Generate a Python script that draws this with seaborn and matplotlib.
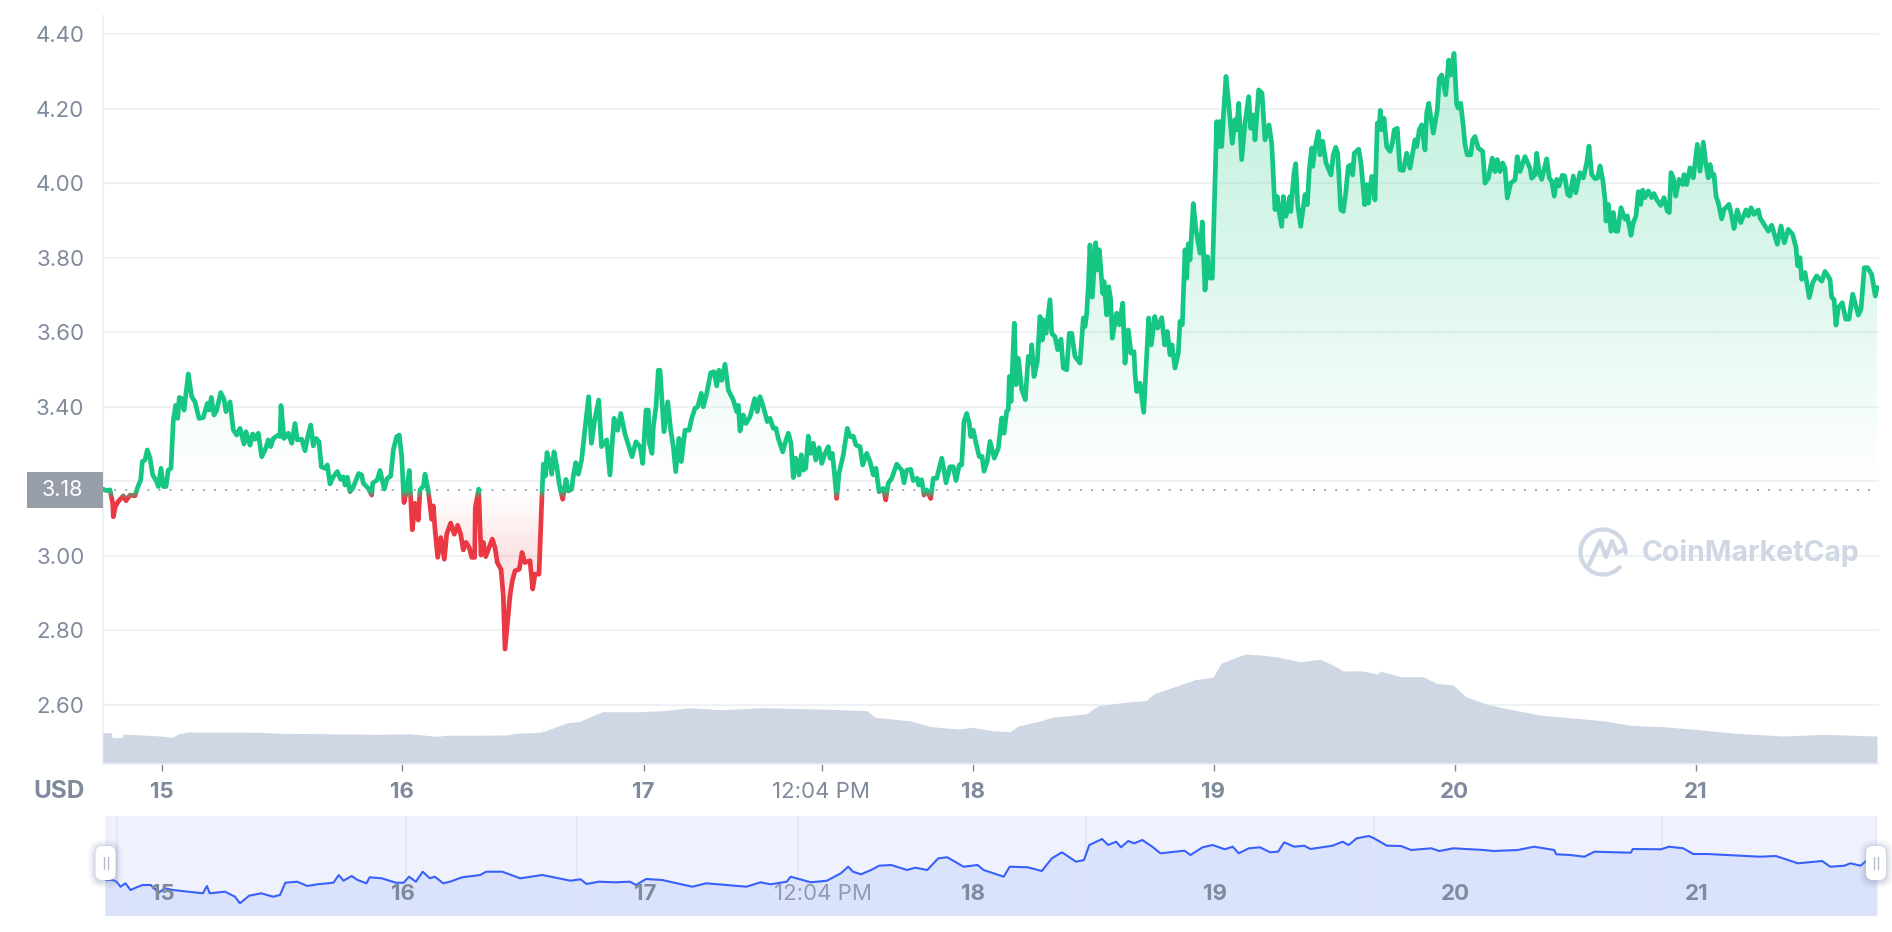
import numpy as np
import matplotlib
matplotlib.use("Agg")
import matplotlib.pyplot as plt
from matplotlib.patches import Rectangle, FancyBboxPatch
from matplotlib.colors import to_rgb
import seaborn as sns

# ---------- data ----------
price_slot = [0.2,4.2,7.5,10.2,10.8,12.8,15.8,20.8,23.5,27.5,32.5,34.8,38.2,39.8,42.5,44.8,47.5,50.2,54.2,55.8,
58.5,60.8,63.5,65.8,68.5,70.8,73.2,75.2,76.8,79.2,81.5,85.8,89.2,92.5,96.5,100.8,104.8,106.8,108.8,111.5,
114.2,118.2,121.5,123.5,127.5,130.8,134.2,137.5,141.5,143.5,147.5,150.2,152.5,155.8,159.2,163.2,165.8,168.2,170.8,175.8,
177.5,178.5,181.5,185.8,189.2,192.5,194.8,199.2,202.5,204.8,208.2,210.8,213.5,216.5,218.8,222.5,224.8,227.5,230.8,234.8,
238.2,240.8,242.5,244.8,247.5,250.2,256.2,259.2,260.8,265.8,269.2,270.2,274.8,277.5,281.8,284.8,288.2,290.8,294.2,296.8,
299.2,301.5,304.2,306.8,309.8,312.5,315.8,317.5,
321.0,322.5,325.8,329.2,330.8,332.5,335.2,338.2,341.8,344.2,348.2,351.8,355.2,358.2,360.8,363.5,366.8,369.2,372.2,372.8,
376.2,378.5,380.8,383.2,389.8,392.5,394.8,398.5,400.8,402.5,404.8,407.5,409.8,412.5,416.8,419.5,422.5,427.5,430.2,432.5,
436.5,439.2,440.8,442.8,444.5,446.8,449.2,451.5,454.2,456.8,460.2,463.5,465.8,469.2,470.8,473.2,475.8,479.2,481.5,
486.1,488.9,492.2,496.2,499.0,504.2,507.4,511.5,515.1,518.3,522.3,527.5,529.5,533.5,
537.5,540.2,543.5,545.8,546.8,549.5,550.8,553.5,555.8,557.5,559.2,561.5,565.2,568.2,570.8,573.2,576.5,578.8,582.5,586.5,
589.2,592.5,595.2,598.8,600.8,604.2,608.2,611.5,614.2,616.5,619.2,622.5,625.8,630.8,634.2,635.8,637.5,640.8,643.5,647.5,
652.2,654.8,657.5,660.8,664.8,667.5,670.8,673.5,675.8,680.2,682.5,685.8,688.5,690.8,693.2,696.5,698.8,700.8,703.2,705.8,
708.2,710.8,713.2,716.5,719.2,722.5,725.8,727.5,729.8,731.8,734.2,736.5,740.8,744.8,747.5,750.8,753.5,757.5,760.2,764.2,
767.5,770.8,773.5,776.5,780.8,783.2,785.8,789.2,794.2,799.2,801.5,804.2,808.2,810.8,814.8,816.2,819.2,821.5,824.2,828.2,
830.8,834.2,839.2,841.5,843.5,847.5,850.8,853.5,856.8,859.2,861.5,864.2,866.8,868.2,870.8,873.5,876.8,
879.5,881.5,884.8,887.5,891.8,895.8,899.2,901.5,904.2,905.8,906.8,908.5,911.8,913.5,915.8,919.2,922.8,925.8,928.2,929.2,
931.5,934.8,937.5,939.8,940.8,943.5,947.5,949.2,952.5,955.2,958.5,960.8,964.2,966.8,969.2,972.5,977.5,980.8,982.5,984.2,
985.8,987.5,989.8,993.2,994.8,996.8,1000.2,1001.5,1004.2,1006.2,1008.2,1009.8,1014.2,1016.8,1020.2,1022.5,1025.8,1028.5,1031.5,1032.5,
1034.2,1037.5,1041.2,1043.5,1046.2,1048.8,1052.2,1055.2,1059.2,1062.2,1064.8,1067.5,1069.5,1072.5,1075.8,1077.5,1079.8,1082.5,1084.2,1085.8,
1087.5,1089.8,1090.8,1093.5,1097.5,1099.8,1102.5,1104.8,1107.5,1109.8,
1111.8,1114.2,1115.8,1117.5,1119.2,1120.8,1123.5,1125.8,1129.8,1132.5,1134.2,1136.2,1139.2,1142.5,1146.2,1148.2,1150.8,1152.5,1156.2,1159.5,
1162.5,1166.5,1169.2,1172.5,1174.8,1176.2,1179.2,1180.8,1183.5,1187.5,1188.2,1191.5,1193.2,1195.2,1198.2,1202.5,1204.8,1206.8,1209.2,1210.2,
1212.5,1215.8,1217.5,1220.2,1223.5,1228.5,1230.8,1233.2,1235.2,1238.2,1240.8,1243.2,1245.8,1248.5,1250.2,1251.8,1256.2,1258.5,1262.2,1264.2,
1265.8,1269.2,1272.5,1274.8,1276.5,1277.8,1279.8,1281.5,1284.2,1287.5,1289.8,1291.8,1294.8,1297.5,1300.8,1304.2,1307.5,1312.5,1314.2,1316.8,
1319.2,1322.5,1324.2,1326.2,1330.8,1334.8,1336.8,1339.2,1343.2,1346.2,1348.5,1351.5,1354.2,1355.8,1358.2,1360.8,1362.5,1364.8,1368.2,1370.2,
1372.5,1375.8,1380.2,1382.5,1385.8,1389.8,1392.5,1394.8,1397.5,1400.2,1402.5,1404.8,1408.2,1412.5,1414.8,1417.5,1422.5,1427.5,1429.2,1432.5,
1434.2,1436.8,
1439.2,1444.2,1446.8,1449.2,1451.8,1454.2,1456.5,1459.8,1462.2,1465.2,1467.5,1470.8,1473.2,1477.5,1480.8,1484.2,1486.5,1489.2,1492.5,1495.2,
1497.5,1500.2,1502.5,1503.5,1505.8,1508.5,1510.8,1513.2,1515.2,1518.5,1522.5,1524.8,1528.5,1530.8,1533.5,1535.8,1538.2,1540.2,1542.5,1545.8,
1549.2,1551.5,1554.2,1558.2,1561.5,1564.8,1566.8,1568.5,1570.8,1573.2,1576.5,1580.2,1581.5,1584.2,1587.5,1590.8,1594.8,1597.5,1600.8,1603.2,
1605.8,1607.5,1609.8,1611.5,1613.5,1615.8,1619.2,1621.5,1626.5,1629.2,1631.5,1634.8,1638.2,1643.5,1645.8,1648.5,1651.5,1655.8,1657.5,1662.5,
1665.8,1669.2,1674.8,1678.5,1681.8,1685.8,1690.2,1693.5,1695.2,1697.5,1699.2,1702.5,1706.8,1710.2,1714.2,1719.2,1722.5,1727.5,1729.2,1731.5,
1733.5,1735.8,1739.8,1743.2,1746.5,1750.2,1752.5,1755.8,1758.5,1761.8,1765.2,1769.2,1772.8,1774.5]

price_usd = [3.179,3.175,3.177,3.141,3.105,3.132,3.146,3.161,3.148,3.163,3.161,3.181,3.204,3.253,3.257,3.284,3.262,3.217,3.199,3.186,
3.235,3.186,3.186,3.230,3.235,3.364,3.404,3.369,3.425,3.422,3.391,3.488,3.427,3.413,3.369,3.371,3.409,3.391,3.425,3.378,
3.391,3.438,3.420,3.387,3.413,3.338,3.324,3.342,3.300,3.333,3.297,3.327,3.313,3.329,3.266,3.288,3.311,3.293,3.315,3.324,
3.320,3.403,3.315,3.329,3.302,3.355,3.311,3.313,3.282,3.315,3.351,3.295,3.315,3.306,3.239,3.235,3.244,3.193,3.212,3.226,
3.205,3.212,3.190,3.211,3.172,3.181,3.221,3.217,3.195,3.181,3.163,3.195,3.204,3.229,3.179,3.208,3.214,3.284,3.320,3.324,
3.266,3.143,3.177,3.229,3.070,3.141,3.096,3.177,
3.188,3.219,3.174,3.098,3.134,3.071,2.996,3.049,2.991,3.058,3.088,3.058,3.082,3.058,3.016,3.036,3.022,2.996,2.996,3.129,
3.179,3.002,3.036,2.998,3.045,3.022,2.982,2.964,2.893,2.750,2.817,2.893,2.933,2.960,2.964,3.009,2.982,2.987,2.911,2.951,
2.951,3.143,3.246,3.214,3.277,3.254,3.219,3.279,3.241,3.192,3.152,3.205,3.174,3.179,3.214,3.250,3.219,3.259,3.317,
3.427,3.302,3.364,3.418,3.293,3.311,3.217,3.369,3.337,3.382,3.329,3.284,3.266,3.306,
3.293,3.248,3.391,3.391,3.302,3.275,3.346,3.400,3.498,3.498,3.427,3.333,3.413,3.337,3.293,3.226,3.315,3.253,3.337,3.337,
3.369,3.396,3.400,3.436,3.400,3.436,3.491,3.494,3.456,3.498,3.471,3.514,3.445,3.418,3.387,3.404,3.335,3.378,3.355,3.373,
3.422,3.387,3.427,3.400,3.360,3.369,3.342,3.342,3.315,3.279,3.302,3.329,3.302,3.210,3.262,3.217,3.271,3.230,3.235,3.321,
3.275,3.302,3.257,3.290,3.248,3.275,3.293,3.262,3.275,3.226,3.154,3.221,3.271,3.342,3.320,3.321,3.297,3.293,3.244,3.275,
3.253,3.217,3.235,3.172,3.181,3.150,3.195,3.208,3.246,3.230,3.196,3.230,3.232,3.202,3.208,3.190,3.204,3.163,3.177,3.154,
3.208,3.208,3.262,3.230,3.196,3.239,3.239,3.202,3.244,3.244,3.360,3.382,3.355,3.320,3.337,3.302,3.266,
3.267,3.227,3.254,3.307,3.262,3.289,3.370,3.329,3.388,3.392,3.481,3.414,3.624,3.459,3.530,3.446,3.419,3.535,3.517,3.566,
3.481,3.521,3.642,3.579,3.633,3.597,3.687,3.597,3.588,3.553,3.581,3.504,3.499,3.597,3.597,3.535,3.517,3.638,3.615,3.651,
3.722,3.834,3.694,3.840,3.767,3.821,3.704,3.736,3.646,3.722,3.687,3.584,3.651,3.620,3.678,3.517,3.606,3.544,3.548,3.490,
3.441,3.463,3.385,3.499,3.638,3.566,3.642,3.611,3.639,3.566,3.602,3.539,3.566,3.504,3.544,3.629,3.620,3.821,3.745,3.837,
3.794,3.901,3.945,3.874,3.812,3.896,3.713,3.803,3.745,3.745,
3.937,4.165,4.098,4.165,4.098,4.174,4.286,4.223,4.107,4.170,4.143,4.214,4.063,4.161,4.232,4.147,4.183,4.116,4.250,4.241,
4.116,4.156,4.107,3.929,3.964,3.929,3.884,3.964,3.911,3.964,3.924,4.027,4.052,3.942,3.884,3.969,3.942,4.036,4.094,4.045,
4.094,4.138,4.076,4.112,4.054,4.022,4.076,4.096,4.080,3.929,3.924,3.973,4.045,4.049,4.022,4.080,4.091,4.054,3.942,3.996,
3.946,4.018,3.955,4.161,4.143,4.195,4.143,4.174,4.098,4.085,4.107,4.143,4.147,4.036,4.034,4.080,4.040,4.116,4.098,4.143,
4.156,4.089,4.188,4.214,4.134,4.196,4.281,4.290,4.237,4.330,4.290,4.348,4.210,4.201,4.214,4.152,4.103,4.076,4.076,4.116,
4.125,4.094,4.085,4.000,4.013,4.067,4.031,4.063,4.031,4.054,4.040,3.960,4.000,4.009,4.071,4.031,4.071,4.040,4.013,4.022,
4.080,4.027,
4.010,4.065,4.014,4.005,3.965,4.010,3.992,4.021,4.019,3.970,3.965,4.019,3.974,4.028,4.014,4.054,4.099,4.023,4.012,4.014,
4.046,4.010,3.956,3.898,3.943,3.871,3.921,3.871,3.871,3.934,3.903,3.912,3.860,3.894,3.912,3.977,3.943,3.981,3.961,3.979,
3.961,3.972,3.956,3.940,3.961,3.925,3.921,4.028,4.014,3.965,4.010,3.996,4.023,3.996,4.041,4.014,4.104,4.032,4.110,4.054,
4.014,4.050,4.019,4.023,3.965,3.947,3.904,3.929,3.943,3.912,3.878,3.928,3.894,3.928,3.912,3.934,3.916,3.928,3.907,3.885,
3.871,3.887,3.836,3.885,3.840,3.876,3.862,3.827,3.778,3.800,3.742,3.760,3.693,3.733,3.751,3.737,3.763,3.742,3.693,3.688,
3.619,3.666,3.679,3.635,3.635,3.702,3.679,3.646,3.662,3.773,3.773,3.755,3.697,3.720]

volume_slot = [0.4,9,9.5,20,20.5,58,70,76,86,155,179,279,307,334,344,404,413,438,444,438.5,
465,476,488,500,534,539.5,559.5,587.5,619.5,660.5,728.5,764.5,772.5,808.5,828.5,856.5,869.5,889.5,907.5,915.5,
937.5,949.5,983.5,995.5,1025.5,1043.5,1051.5,1092.5,1110.5,1118.5,1142.5,1157.5,1173.5,1197.5,1217.5,1230.5,1240.5,1258.5,1274.5,1278.5,
1298.5,1320.5,1334.5,1350.5,1363.5,1383.5,1407.5,1439.5,1500.5,1528.5,1560.5,1592.5,1633.5,1681.5,1721.5,1774.5]
volume_top = [30,30,25,25,28.7,26.7,25.4,28.7,30.7,30.4,29.4,28.4,29,26.4,27.4,27.7,29.4,30.4,39.4,30.4,
40,41,46,51,51,51,52,55,53,55,53.4,52,45.4,41.7,36,33.7,35.4,32,31,36.7,
41.7,45.4,48.7,57,60.7,62,69,83,85.4,99.4,108.7,107.7,106,101,103.4,97.7,91.7,92,88.7,91.4,
86,86,79.4,77.7,66,58.7,53.4,47.4,42,37.4,36,33.4,29.4,26.7,28.4,26.7]

nav_slot = [0,7.5,11.5,15.5,20.4,25.6,31.6,37.6,45.7,53.7,59.7,67.8,83.8,97.9,101.9,104.7,120,130,134.9,144.1,
156.2,168.2,175,180.3,192.3,202.4,212.4,228.5,233.7,238.5,246.6,252.6,261.4,264.7,276.7,290.8,298.8,304,310.9,317.7,
324.9,329.8,338.2,345,357.1,375.2,381.2,397.3,415.3,437.4,465.6,475.6,481.6,493.7,509.8,525,
531,541.1,557.1,587.3,601.3,641.5,655.6,665.6,681.7,685.7,705.8,721.9,735.9,743.2,748,756,766.1,774.1,786.2,802.2,
810.3,822.3,833.2,838.4,842.4,858.5,872.6,878.6,898.7,904.7,922.8,936.8,946.9,956.9,971,979,984.3,997.1,1003.1,1011.2,
1016,1023.2,1029.3,1037.3,1047.3,1055.4,1079.5,1085.5,1097.6,1107.6,1119.7,1127.7,1133.7,1143.8,1155,
1165.1,1173.1,1179.2,1189.3,1199.3,1205.4,1227.5,1237.6,1243.7,1251.7,1263.8,1269,1281.9,1296,1306.1,1326.3,1334.3,1348.4,1378.7,1388.7,
1412.9,1429,1449.2,1451.2,1465.3,1479.4,1489.5,1525.8,1527.8,1556,1564,1578.2,1588.2,1602.3,1654.7,1670.8,1693,1717.2,1725.2,1739.3,
1745.4,1755.5,1761.5,1772]
nav_value = [36,35.7,34,29,32.4,25.7,28.4,30.7,30.7,23,27.4,25.7,24,22.4,29.7,22.4,24,19,12.4,20,
22.4,19,20.7,33,34,29.7,31.4,33,40.7,35,39.7,35.7,32.4,38.4,37.4,33,33,39,34,44,
37.4,39,32.4,34,38.4,40.7,44,44,37.4,40.7,35,36.4,31.7,34,33.4,34,
30.7,36.7,35.7,29,32.4,29,33.4,31.4,34,39,33.4,35,42.4,49,44,41.4,45.7,50,50.7,45.7,
48,45.7,57.4,58,58.4,49,50.7,45.7,39,49,48.4,44.7,57.4,63.4,54,55.7,70.7,76.7,70.7,74,
68.4,74.7,72.4,75.7,69,62.4,65,60.7,68.4,70.7,66.4,69,62.4,67.4,68.4,
63.4,64,73.4,69,70,66.7,70,74,70.7,77.4,79.7,77.4,70,69.7,65.7,67.4,64.7,67.4,65.7,64.7,
65.7,69,65.7,61.4,60.7,59,64,63,66.7,66.4,69,67.4,61.7,61.7,59,59.7,52.4,54.7,49,50,
52.4,50,55,58]

y_ticks = [4.4, 4.2, 4.0, 3.8, 3.6, 3.4, 3.2, 3.0, 2.8, 2.6]
y_labels = ["4.40", "4.20", "4.00", "3.80", "3.60", "3.40", "", "3.00", "2.80", "2.60"]
x_ticks = [59, 299, 541, 719, 870, 1111, 1352, 1593]
x_labels = ["15", "16", "17", "12:04 PM", "18", "19", "20", "21"]
nav_ticks = [58, 298, 540, 718, 868.5, 1110, 1350.5, 1591.5]
nav_bands = [12, 301, 472, 693, 980.6, 1269, 1557, 1772]
open_price = 3.178
open_label = "3.18"

GREEN, RED, TICK, GRID, VOL = "#16c784", "#ea3943", "#808a9d", "#eff2f5", "#cfd6e4"

# ---------- figure ----------
sns.set_style("white")
plt.rcParams["font.family"] = ["Inter", "DejaVu Sans"]
W, H = 1892, 932
fig = plt.figure(figsize=(W / 100, H / 100), dpi=100, facecolor="white")


def box(x0, y0, x1, y1):
    return [x0 / W, 1 - y1 / H, (x1 - x0) / W, (y1 - y0) / H]


ax = fig.add_axes(box(102.5, 16, 1879, 764))
px_per_usd = 74.55 / 0.2
xlim = (0, 1776.5)
ylim = (4.40 - (764 - 34) / px_per_usd, 4.40 + 18 / px_per_usd)
x = np.array(price_slot)
y = np.array(price_usd)

ax.set_yticks(y_ticks, y_labels)
ax.set_xticks(x_ticks, x_labels)
ax.grid(axis="y", color=GRID, lw=1.5)
ax.grid(axis="x", visible=False)
ax.set_axisbelow(True)
for s in ("top", "right"):
    ax.spines[s].set_visible(False)
for s in ("left", "bottom"):
    ax.spines[s].set_color(GRID)
    ax.spines[s].set_linewidth(1.5)
ax.tick_params(axis="y", length=0, pad=13, labelsize=16, labelcolor=TICK)
ax.tick_params(axis="x", bottom=True, length=5.2, width=1, color=TICK, pad=8, labelsize=16, labelcolor=TICK)
for t in ax.get_xticklabels():
    t.set_fontweight("regular" if "PM" in t.get_text() else "bold")


# gradient fills
def gradient(lo, hi, stops, alphas, colour, poly_y):
    vals = np.linspace(hi, lo, 256)
    rgba = np.zeros((256, 1, 4))
    rgba[..., :3] = to_rgb(colour)
    rgba[:, 0, 3] = np.interp(vals, stops, alphas)
    im = ax.imshow(rgba, extent=[x[0], x[-1], lo, hi], aspect="auto", zorder=2, interpolation="bilinear")
    coll = ax.fill_between(x, poly_y, open_price, color="none", lw=0)
    im.set_clip_path(coll.get_paths()[0], transform=ax.transData)


gradient(open_price, 4.36, [open_price, 3.4, 3.8, 4.36], [0, .05, .16, .27], GREEN, np.maximum(y, open_price))
gradient(2.74, open_price, [2.74, 2.9, 3.0, 3.13, open_price], [.03, .10, .14, .04, 0], RED, np.minimum(y, open_price))

ax.axhline(open_price, color="#8f96a3", lw=1.15, ls=(0, (1.25, 5.7)), zorder=2.5)


# price line, colour decided by the price band it falls in
def band_line(lo, hi, colour):
    sns.lineplot(x=x, y=y, ax=ax, color=colour, lw=3.4, estimator=None, sort=False, zorder=3,
                 solid_joinstyle="round", solid_capstyle="round", legend=False)
    ax.lines[-1].set_clip_path(Rectangle((xlim[0], lo), xlim[1], hi - lo, transform=ax.transData))


band_top, band_bot, n = 3.175, 3.155, 6
edges = np.linspace(band_top, band_bot, n + 1)
band_line(band_top, 5, GREEN)
band_line(2, band_bot, RED)
for i in range(n):
    f = (i + .5) / n
    c = (1 - f) * np.array(to_rgb(GREEN)) + f * np.array(to_rgb(RED))
    band_line(edges[i + 1], edges[i], tuple(c))
ax.set_xlim(xlim)
ax.set_ylim(ylim)
ax.set_xlabel("")
ax.set_ylabel("")

# volume
vax = ax.twinx()
vax.fill_between(volume_slot, volume_top, 0, color=VOL, lw=0)
vax.set_ylim(-1.3, 746.7)
vax.set_yticks([])
vax.set_ylabel("")
vax.patch.set_visible(False)
for s in vax.spines.values():
    s.set_visible(False)

# navigator
nav = fig.add_axes(box(105, 816, 1877, 915.7), facecolor="#eff2fd")
nav.fill_between(nav_slot, nav_value, 0, color="#dbe2fb", lw=0, zorder=1)
for b in nav_bands:
    nav.axvline(b, color="#e0e5f9", lw=1.3, zorder=1.5)
sns.lineplot(x=nav_slot, y=nav_value, ax=nav, color="#3861fb", lw=1.5, estimator=None, sort=False,
             zorder=2, legend=False)
nav.set_xlim(0, 1772)
nav.set_ylim(0, 99.7)
nav.set_yticks([])
nav.set_xticks(nav_ticks, x_labels)
nav.set_xlabel("")
nav.set_ylabel("")
nav.set_axisbelow(False)
nav.tick_params(axis="x", length=0, pad=-23, labelsize=16, labelcolor=TICK)
for t in nav.get_xticklabels():
    t.set_fontweight("regular" if "PM" in t.get_text() else "bold")
    t.set_alpha(.8 if "PM" in t.get_text() else 1)
for s in nav.spines.values():
    s.set_visible(False)

# overlay: price tag, USD, watermark, navigator handles
ov = fig.add_axes([0, 0, 1, 1], facecolor="none", zorder=10)
ov.set_xlim(0, W)
ov.set_ylim(H, 0)
ov.axis("off")
ov.add_patch(Rectangle((27, 472), 75.5, 35.7, color="#989ea9", lw=0))
ov.text(83, 490, open_label, color="white", fontsize=15.5, ha="right", va="center")
ov.text(85, 792, "USD", color=TICK, fontsize=17.5, fontweight="bold", ha="right", va="center")

t = np.radians(np.linspace(42, 362, 120))
ov.plot(1603 + 22.5 * np.cos(t), 552 + 22.5 * np.sin(t), color=VOL, lw=3, solid_capstyle="round")
ov.plot([1589, 1600, 1606, 1612, 1617, 1625], [565, 541, 557, 541, 553, 549], color=VOL, lw=3,
        solid_joinstyle="round", solid_capstyle="round")
ov.text(1642, 553, "CoinMarketCap", color=VOL, fontsize=20.5, fontweight="bold", ha="left", va="center")

for cx in (105.5, 1876):
    for grow, a in ((7, .06), (5, .08), (3, .10), (1.5, .14)):
        ov.add_patch(FancyBboxPatch((cx - 7, 850), 14, 28, boxstyle=f"round,pad={3 + grow},rounding_size={7 + grow}",
                                    fc="#7f8fb0", ec="none", alpha=a))
    ov.add_patch(FancyBboxPatch((cx - 7, 849), 14, 28, boxstyle="round,pad=3,rounding_size=7",
                                fc="white", ec="none"))
    ov.plot([cx - 2, cx - 2], [857, 869], color="#b6bccb", lw=1)
    ov.plot([cx + 2, cx + 2], [857, 869], color="#b6bccb", lw=1)

fig.savefig("out.png", dpi=100)
